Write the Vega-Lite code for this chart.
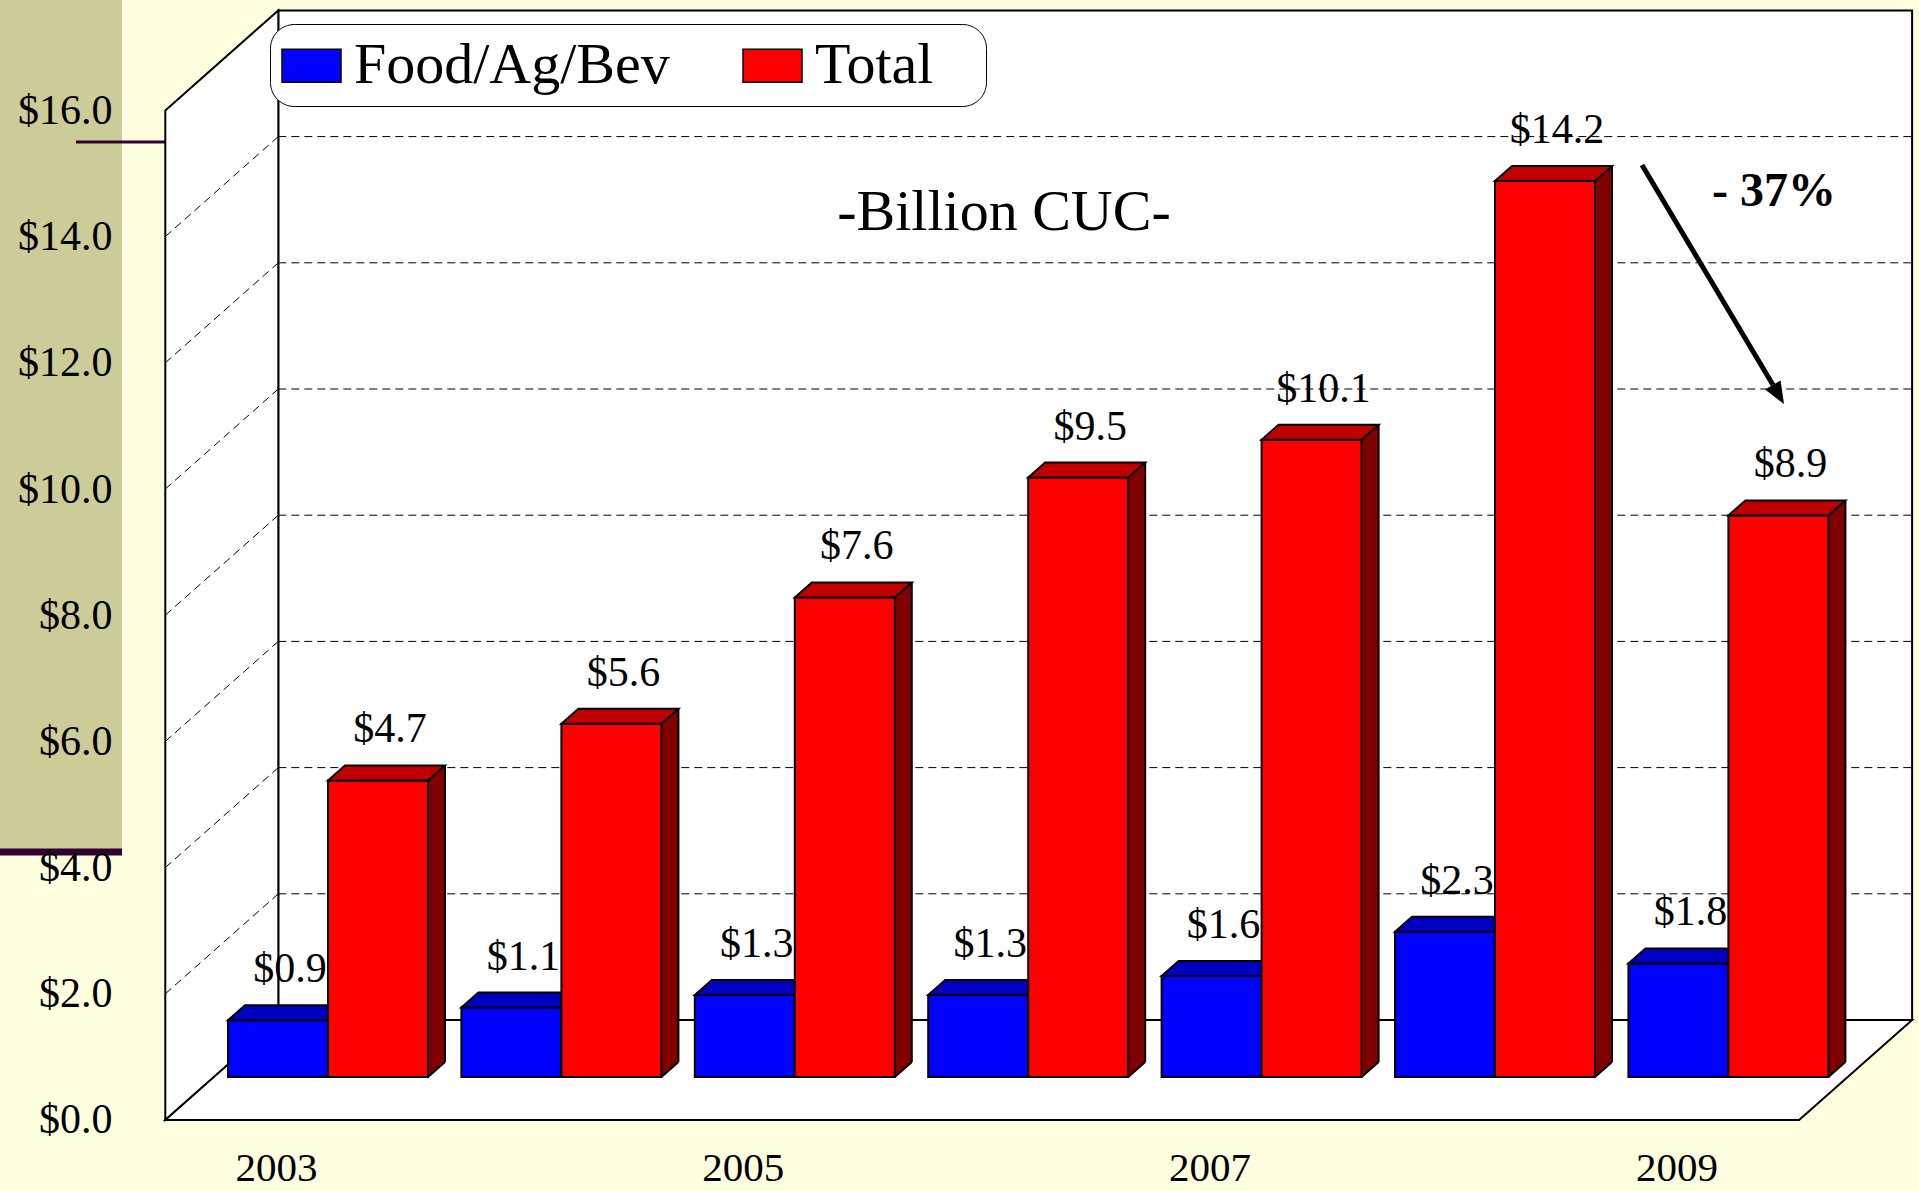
{
  "$schema": "https://vega.github.io/schema/vega-lite/v6.json",
  "width": 1919,
  "height": 1191,
  "autosize": {"type": "none"},
  "padding": 0,
  "background": "#FFFFE0",
  "config": {"view": {"stroke": null}, "font": "Liberation Serif", "scale": {"continuousPadding": 0}},
  "datasets": {
    "bars": [
      {"year": 2003, "series": "Food/Ag/Bev", "value": 0.9},
      {"year": 2004, "series": "Food/Ag/Bev", "value": 1.1},
      {"year": 2005, "series": "Food/Ag/Bev", "value": 1.3},
      {"year": 2006, "series": "Food/Ag/Bev", "value": 1.3},
      {"year": 2007, "series": "Food/Ag/Bev", "value": 1.6},
      {"year": 2008, "series": "Food/Ag/Bev", "value": 2.3},
      {"year": 2009, "series": "Food/Ag/Bev", "value": 1.8},
      {"year": 2003, "series": "Total", "value": 4.7},
      {"year": 2004, "series": "Total", "value": 5.6},
      {"year": 2005, "series": "Total", "value": 7.6},
      {"year": 2006, "series": "Total", "value": 9.5},
      {"year": 2007, "series": "Total", "value": 10.1},
      {"year": 2008, "series": "Total", "value": 14.2},
      {"year": 2009, "series": "Total", "value": 8.9}
    ],
    "levels": [{"level": 2}, {"level": 4}, {"level": 6}, {"level": 8}, {"level": 10}, {"level": 12}, {"level": 14}],
    "leftwall": [
      {"x": 2002.3029, "top": 15.3185, "bottom": -0.6815},
      {"x": 2002.7871, "top": 16.9033, "bottom": 0.9033}
    ],
    "floor": [
      {"y": -0.6815, "left": 2002.3029, "right": 2009.3029},
      {"y": 0.9033, "left": 2002.7871, "right": 2009.7871}
    ]
  },
  "layer": [
    {
      "data": {"values": [{}]},
      "mark": {"type": "rect", "fill": "#CCCC99", "opacity": 1},
      "encoding": {
        "x": {
          "datum": 2001.5947, "type": "quantitative",
          "scale": {"domain": [2001.5947, 2009.8166], "nice": false, "zero": false, "padding": 0}
        },
        "x2": {"datum": 2002.1174},
        "y": {
          "datum": 17.0682, "type": "quantitative",
          "scale": {"domain": [-1.8067, 17.0682], "nice": false, "zero": false, "padding": 0}
        },
        "y2": {"datum": 3.613}
      }
    },
    {
      "data": {"values": [{}]},
      "mark": {"type": "rule", "stroke": "#330033", "strokeWidth": 7},
      "encoding": {
        "x": {"datum": 2001.5947, "type": "quantitative"},
        "x2": {"datum": 2002.1174},
        "y": {"datum": 3.566, "type": "quantitative"}
      }
    },
    {
      "data": {"values": [{}]},
      "mark": {"type": "rule", "stroke": "#330033", "strokeWidth": 3},
      "encoding": {
        "x": {"datum": 2001.9203, "type": "quantitative"},
        "x2": {"datum": 2002.3016},
        "y": {"datum": 14.818, "type": "quantitative"}
      }
    },
    {
      "data": {"values": [{}]},
      "mark": {"type": "rect", "fill": "white", "stroke": "black", "strokeWidth": 2, "opacity": 1,
               "xOffset": 67, "x2Offset": 67, "yOffset": -57, "y2Offset": -57},
      "encoding": {
        "x": {"datum": 2002.5, "type": "quantitative"},
        "x2": {"datum": 2009.5},
        "y": {"datum": 16, "type": "quantitative"},
        "y2": {"datum": 0}
      }
    },
    {
      "data": {"name": "leftwall"},
      "mark": {"type": "area", "fill": "white", "stroke": "black", "strokeWidth": 2, "opacity": 1},
      "encoding": {
        "x": {"field": "x", "type": "quantitative"},
        "y": {"field": "top", "type": "quantitative"},
        "y2": {"field": "bottom"}
      }
    },
    {
      "data": {"name": "floor"},
      "mark": {"type": "area", "orient": "horizontal", "fill": "white", "stroke": "black", "strokeWidth": 2, "opacity": 1},
      "encoding": {
        "y": {"field": "y", "type": "quantitative"},
        "x": {"field": "left", "type": "quantitative"},
        "x2": {"field": "right"}
      }
    },
    {
      "data": {"name": "levels"},
      "mark": {"type": "rule", "stroke": "black", "strokeWidth": 1, "strokeDash": [8, 5],
               "xOffset": 67, "x2Offset": 67, "yOffset": -57},
      "encoding": {
        "x": {"datum": 2002.5, "type": "quantitative"},
        "x2": {"datum": 2009.5},
        "y": {"field": "level", "type": "quantitative"}
      }
    },
    {
      "data": {"name": "levels"},
      "mark": {"type": "rule", "stroke": "black", "strokeWidth": 1, "strokeDash": [8, 5],
               "xOffset": -46, "x2Offset": 67, "yOffset": 43, "y2Offset": -57},
      "encoding": {
        "x": {"datum": 2002.5, "type": "quantitative"},
        "x2": {"datum": 2002.5},
        "y": {"field": "level", "type": "quantitative"},
        "y2": {"field": "level"}
      }
    },
    {
      "data": {"name": "bars"},
      "transform": [{"filter": "datum.series === 'Food/Ag/Bev'"}],
      "mark": {"type": "bar", "width": 100, "xOffset": -50, "stroke": "black", "strokeWidth": 2, "opacity": 1},
      "encoding": {
        "x": {
          "field": "year", "type": "quantitative",
          "scale": {"domain": [2001.5947, 2009.8166], "nice": false, "zero": false, "padding": 0},
          "axis": {
            "values": [2003, 2005, 2007, 2009], "format": "d", "orient": "bottom",
            "offset": -23, "labelOffset": -52, "labelPadding": 0, "tickSize": 0,
            "ticks": false, "domain": false, "grid": false, "title": null,
            "labelFont": "Liberation Serif", "labelFontSize": 41, "labelColor": "black",
            "labelBaseline": "middle", "labelFlush": false, "labelOverlap": false, "zindex": 1
          }
        },
        "y": {
          "field": "value", "type": "quantitative", "stack": null,
          "scale": {"domain": [-1.8067, 17.0682], "nice": false, "zero": false, "padding": 0},
          "axis": {
            "values": [0, 2, 4, 6, 8, 10, 12, 14, 16],
            "labelExpr": "'$' + format(datum.value, '.1f')",
            "orient": "left", "offset": -122, "labelOffset": 43, "labelPadding": 10,
            "tickSize": 0, "ticks": false, "domain": false, "grid": false, "title": null,
            "labelFont": "Liberation Serif", "labelFontSize": 42, "labelColor": "black",
            "labelBaseline": "middle", "labelAlign": "right", "labelOverlap": false, "labelFlush": false, "zindex": 1
          }
        },
        "y2": {"datum": 0},
        "color": {
          "field": "series", "type": "nominal",
          "scale": {"domain": ["Food/Ag/Bev", "Total"], "range": ["#0000FF", "#FF0000"]},
          "legend": {
            "orient": "none", "legendX": 270, "legendY": 24, "direction": "horizontal",
            "title": " ", "titleOrient": "right", "titlePadding": 42, "titleFontSize": 58,
            "fillColor": "white", "strokeColor": "black", "cornerRadius": 24, "padding": 11,
            "symbolType": "M-1,-0.56H1V0.56H-1Z", "symbolSize": 3481,
            "symbolStrokeColor": "black", "symbolStrokeWidth": 1.5, "symbolOpacity": 1,
            "labelFont": "Liberation Serif", "labelFontSize": 58, "labelColor": "black",
            "labelOffset": 12, "columnPadding": 70, "labelLimit": 1000, "labelBaseline": "middle"
          }
        }
      }
    },
    {
      "data": {"name": "bars"},
      "transform": [{"filter": "datum.series === 'Food/Ag/Bev'"}],
      "mark": {"type": "point", "shape": "M-0.8621,0L0.8621,0L1.1552,-0.2586L-0.5690,-0.2586Z", "size": 13456,
               "filled": true, "fill": "#0000C0", "stroke": "black", "strokeWidth": 2, "opacity": 1, "xOffset": -50},
      "encoding": {
        "x": {"field": "year", "type": "quantitative"},
        "y": {"field": "value", "type": "quantitative"}
      }
    },
    {
      "data": {"name": "bars"},
      "transform": [{"filter": "datum.series === 'Food/Ag/Bev'"}],
      "mark": {"type": "text", "xOffset": -50, "dx": 12, "dy": -51, "baseline": "middle", "align": "center",
               "font": "Liberation Serif", "fontSize": 42, "fill": "black"},
      "encoding": {
        "x": {"field": "year", "type": "quantitative"},
        "y": {"field": "value", "type": "quantitative"},
        "text": {"field": "value", "type": "quantitative", "format": "$.1f"}
      }
    },
    {
      "data": {"name": "bars"},
      "transform": [{"filter": "datum.series === 'Total'"}],
      "mark": {"type": "bar", "width": 17, "xOffset": 108.5, "yOffset": -15, "y2Offset": -15, "fill": "#800000", "opacity": 1},
      "encoding": {
        "x": {"field": "year", "type": "quantitative"},
        "y": {"field": "value", "type": "quantitative", "stack": null},
        "y2": {"datum": 0}
      }
    },
    {
      "data": {"name": "bars"},
      "transform": [{"filter": "datum.series === 'Total'"}],
      "mark": {"type": "point", "shape": "M0,-0.9412L1,-0.9412L1,-0.8824L0,0Z", "size": 1156,
               "filled": true, "fill": "#800000", "strokeWidth": 0, "opacity": 1, "xOffset": 100},
      "encoding": {
        "x": {"field": "year", "type": "quantitative"},
        "y": {"datum": 0, "type": "quantitative"}
      }
    },
    {
      "data": {"name": "bars"},
      "transform": [{"filter": "datum.series === 'Total'"}],
      "mark": {"type": "rule", "stroke": "black", "strokeWidth": 2, "xOffset": 117, "yOffset": -15, "y2Offset": -15},
      "encoding": {
        "x": {"field": "year", "type": "quantitative"},
        "y": {"field": "value", "type": "quantitative"},
        "y2": {"datum": 0}
      }
    },
    {
      "data": {"name": "bars"},
      "transform": [{"filter": "datum.series === 'Total'"}],
      "mark": {"type": "rule", "stroke": "black", "strokeWidth": 2, "xOffset": 100, "x2Offset": 117, "y2Offset": -15},
      "encoding": {
        "x": {"field": "year", "type": "quantitative"},
        "x2": {"field": "year"},
        "y": {"datum": 0, "type": "quantitative"},
        "y2": {"datum": 0}
      }
    },
    {
      "data": {"name": "bars"},
      "transform": [{"filter": "datum.series === 'Total'"}],
      "mark": {"type": "bar", "width": 100, "xOffset": 50, "stroke": "black", "strokeWidth": 2, "opacity": 1},
      "encoding": {
        "x": {"field": "year", "type": "quantitative"},
        "y": {"field": "value", "type": "quantitative", "stack": null},
        "y2": {"datum": 0},
        "color": {
          "field": "series", "type": "nominal",
          "scale": {"domain": ["Food/Ag/Bev", "Total"], "range": ["#0000FF", "#FF0000"]},
          "legend": {
            "orient": "none", "legendX": 270, "legendY": 24, "direction": "horizontal",
            "title": " ", "titleOrient": "right", "titlePadding": 42, "titleFontSize": 58,
            "fillColor": "white", "strokeColor": "black", "cornerRadius": 24, "padding": 11,
            "symbolType": "M-1,-0.56H1V0.56H-1Z", "symbolSize": 3481,
            "symbolStrokeColor": "black", "symbolStrokeWidth": 1.5, "symbolOpacity": 1,
            "labelFont": "Liberation Serif", "labelFontSize": 58, "labelColor": "black",
            "labelOffset": 12, "columnPadding": 70, "labelLimit": 1000, "labelBaseline": "middle"
          }
        }
      }
    },
    {
      "data": {"name": "bars"},
      "transform": [{"filter": "datum.series === 'Total'"}],
      "mark": {"type": "point", "shape": "M-0.8621,0L0.8621,0L1.1552,-0.2586L-0.5690,-0.2586Z", "size": 13456,
               "filled": true, "fill": "#C00000", "stroke": "black", "strokeWidth": 2, "opacity": 1, "xOffset": 50},
      "encoding": {
        "x": {"field": "year", "type": "quantitative"},
        "y": {"field": "value", "type": "quantitative"}
      }
    },
    {
      "data": {"name": "bars"},
      "transform": [{"filter": "datum.series === 'Total'"}],
      "mark": {"type": "text", "xOffset": 50, "dx": 12, "dy": -51, "baseline": "middle", "align": "center",
               "font": "Liberation Serif", "fontSize": 42, "fill": "black"},
      "encoding": {
        "x": {"field": "year", "type": "quantitative"},
        "y": {"field": "value", "type": "quantitative"},
        "text": {"field": "value", "type": "quantitative", "format": "$.1f"}
      }
    },
    {
      "data": {"values": [{}]},
      "mark": {"type": "rule", "stroke": "black", "strokeWidth": 5},
      "encoding": {
        "x": {"datum": 2008.6298, "type": "quantitative"},
        "x2": {"datum": 2009.1911},
        "y": {"datum": 14.453, "type": "quantitative"},
        "y2": {"datum": 10.9667}
      }
    },
    {
      "data": {"values": [{}]},
      "mark": {"type": "point", "shape": "M0,0L-0.285,-1.961L-1.578,-1.199Z", "size": 576,
               "filled": true, "fill": "black", "strokeWidth": 0, "opacity": 1},
      "encoding": {
        "x": {"datum": 2009.2382, "type": "quantitative"},
        "y": {"datum": 10.6656, "type": "quantitative"}
      }
    },
    {
      "data": {"values": [{"note": "- 37%"}]},
      "mark": {"type": "text", "font": "Liberation Serif", "fontSize": 48, "fontWeight": "bold",
               "baseline": "middle", "align": "center", "fill": "black", "dx": 4, "dy": -3},
      "encoding": {
        "x": {"datum": 2009.1782, "type": "quantitative"},
        "y": {"datum": 13.978, "type": "quantitative"},
        "text": {"field": "note"}
      }
    },
    {
      "data": {"values": [{"note": "-Billion CUC-"}]},
      "mark": {"type": "text", "font": "Liberation Serif", "fontSize": 58,
               "baseline": "alphabetic", "align": "center", "fill": "black"},
      "encoding": {
        "x": {"datum": 2005.8963, "type": "quantitative"},
        "y": {"datum": 13.423, "type": "quantitative"},
        "text": {"field": "note"}
      }
    }
  ]
}
